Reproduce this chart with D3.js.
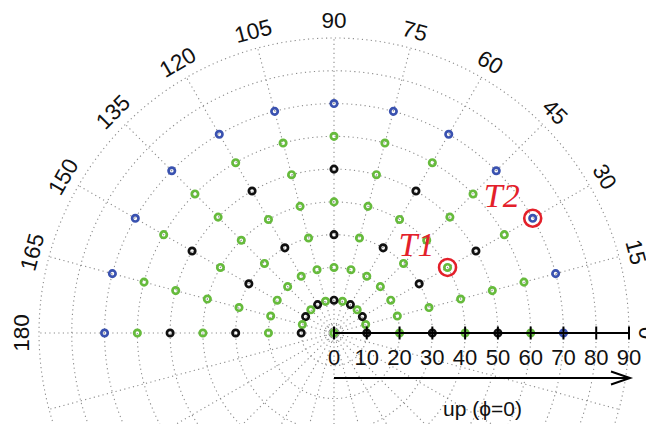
<!DOCTYPE html>
<html>
<head>
<meta charset="utf-8">
<script src="https://cdn.jsdelivr.net/npm/d3@7"></script>
<style>
  body { margin: 0; background: #fff; }
</style>
</head>
<body>
<div id="chart"></div>
<script>
// polar angle labels (degrees) and radial ticks
const angleLabels = [0, 15, 30, 45, 60, 75, 90, 105, 120, 135, 150, 165, 180];
const radialTicks = [0, 10, 20, 30, 40, 50, 60, 70, 80, 90];

// sample points: each ring has one colour code per angle (0..180 every 15)
// k = black, g = green, b = blue
const pointAngles = [0, 15, 30, 45, 60, 75, 90, 105, 120, 135, 150, 165, 180];
const ringRadii = [10, 20, 30, 40, 50, 60, 70];
const ringColours = [
  "kgkgkgkgkgkgk",
  "ggggggggggggg",
  "kgkgkgkgkgkgk",
  "ggggggggggggg",
  "kgkgkgkgkgkgk",
  "ggggggggggggg",
  "bbbbbbbbbbbbb"
];
const centreColour = "g";

// highlighted targets
const targets = [
  {name: "T1", r: 40, angle: 30},
  {name: "T2", r: 70, angle: 30}
];

const W = 646, H = 424;
const cx = 334, cy = 333;
const rMax = 90;
const sans = "'Liberation Sans', Arial, sans-serif";

const colour = {k: "#111111", g: "#66bb3c", b: "#3a52b0"};

const svg = d3.select("#chart").append("svg")
    .attr("width", W)
    .attr("height", H);

const rScale = d3.scaleLinear().domain([0, rMax]).range([0, 295]);

const g = svg.append("g").attr("transform", `translate(${cx}, ${cy})`);

function px(r, a) { return rScale(r) * Math.cos(a * Math.PI / 180); }
function py(r, a) { return -rScale(r) * Math.sin(a * Math.PI / 180); }

// dotted grid: rings and spokes all round
const grid = g.append("g")
    .attr("fill", "none")
    .attr("stroke", "#8c8c8c")
    .attr("stroke-width", 1.1)
    .attr("stroke-dasharray", "1.2,3.3");

grid.selectAll("circle")
    .data(radialTicks.filter(d => d > 0))
    .enter()
    .append("circle")
    .attr("r", d => rScale(d));

grid.append("circle").attr("r", rScale(2.5));

grid.selectAll("line")
    .data(d3.range(0, 360, 15))
    .enter()
    .append("line")
    .attr("x1", 0).attr("y1", 0)
    .attr("x2", d => px(rMax, d))
    .attr("y2", d => py(rMax, d));

// angle labels
g.append("g")
    .selectAll("text")
    .data(angleLabels)
    .enter()
    .append("text")
    .attr("transform", d => `translate(${px(95.3, d)}, ${py(95.3, d)}) rotate(${90 - d})`)
    .attr("text-anchor", "middle")
    .attr("dominant-baseline", "central")
    .style("font-family", sans)
    .style("font-size", "22.5px")
    .attr("fill", "#111")
    .text(d => d);

// points
const pts = [{r: 0, angle: 0, c: centreColour}];
ringRadii.forEach((r, i) => {
  pointAngles.forEach((a, j) => pts.push({r: r, angle: a, c: ringColours[i][j]}));
});

g.append("g")
    .selectAll("circle")
    .data(pts)
    .enter()
    .append("circle")
    .attr("cx", d => px(d.r, d.angle))
    .attr("cy", d => py(d.r, d.angle))
    .attr("r", 3.2)
    .attr("fill", "none")
    .attr("stroke", d => colour[d.c])
    .attr("stroke-width", 2.7);

// radial axis with ticks
const ax = g.append("g").attr("stroke", "#000").attr("stroke-width", 2);
ax.append("line")
    .attr("x1", rScale(0)).attr("x2", rScale(rMax))
    .attr("y1", 0).attr("y2", 0);
ax.selectAll(".tick")
    .data(radialTicks)
    .enter()
    .append("line")
    .attr("class", "tick")
    .attr("x1", d => rScale(d)).attr("x2", d => rScale(d))
    .attr("y1", -6.5).attr("y2", 6.5);

g.append("g")
    .selectAll("text")
    .data(radialTicks)
    .enter()
    .append("text")
    .attr("x", d => rScale(d))
    .attr("y", 31.5)
    .attr("text-anchor", "middle")
    .style("font-family", sans)
    .style("font-size", "22px")
    .attr("fill", "#111")
    .text(d => d);

// arrow
const ay = 45;
g.append("line")
    .attr("x1", 0).attr("x2", rScale(rMax) + 1)
    .attr("y1", ay).attr("y2", ay)
    .attr("stroke", "#000").attr("stroke-width", 2);
g.append("path")
    .attr("d", `M${rScale(rMax) - 18},${ay - 6.5} L${rScale(rMax) + 1},${ay} L${rScale(rMax) - 18},${ay + 6.5}`)
    .attr("fill", "none")
    .attr("stroke", "#000")
    .attr("stroke-width", 2);

g.append("text")
    .attr("x", rScale(rMax / 2) + 1)
    .attr("y", 83)
    .attr("text-anchor", "middle")
    .style("font-family", sans)
    .style("font-size", "21px")
    .attr("fill", "#111")
    .text("up (\u03d5=0)");

// targets
g.append("g")
    .selectAll("circle")
    .data(targets)
    .enter()
    .append("circle")
    .attr("cx", d => px(d.r, d.angle))
    .attr("cy", d => py(d.r, d.angle))
    .attr("r", 8.5)
    .attr("fill", "none")
    .attr("stroke", "#e3202a")
    .attr("stroke-width", 2.6);

g.append("g")
    .selectAll("text")
    .data(targets)
    .enter()
    .append("text")
    .attr("x", d => px(d.r, d.angle) - 13)
    .attr("y", d => py(d.r, d.angle) - 11)
    .attr("text-anchor", "end")
    .style("font-family", "'Liberation Serif', 'Times New Roman', serif")
    .style("font-style", "italic")
    .style("font-size", "34px")
    .attr("fill", "#e3202a")
    .text(d => d.name);
</script>
</body>
</html>
